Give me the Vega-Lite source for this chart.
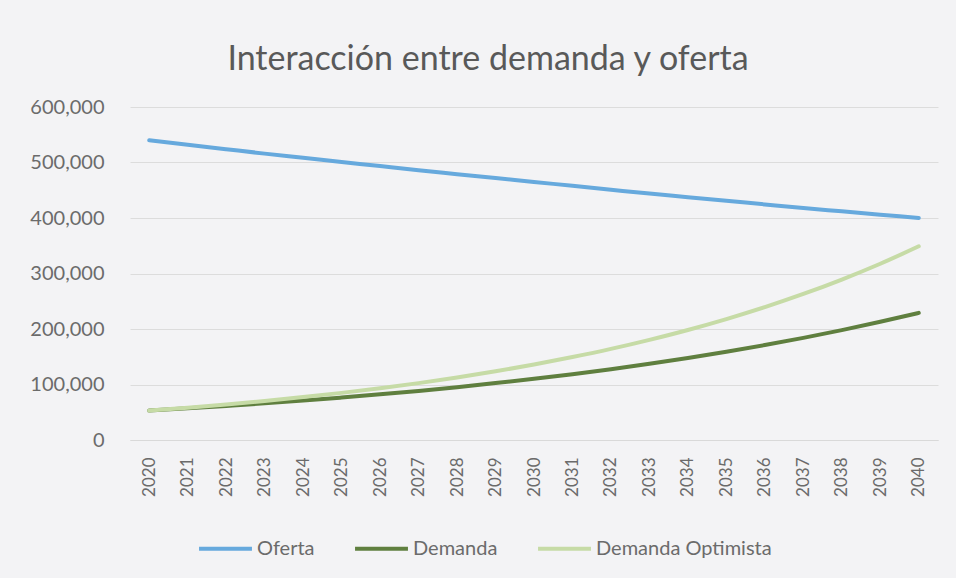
{
  "$schema": "https://vega.github.io/schema/vega-lite/v6.json",
  "width": 808,
  "height": 333,
  "autosize": {"type": "none"},
  "padding": {"left": 130, "top": 107, "right": 18, "bottom": 138},
  "background": "#f3f3f5",
  "title": {
    "text": "Interacción entre demanda y oferta",
    "font": "Lato",
    "fontSize": 34,
    "fontWeight": "normal",
    "color": "#595959",
    "anchor": "middle",
    "dx": -46,
    "offset": 20
  },
  "data": {
    "values": [
      {"anio": "2020", "serie": "Oferta", "valor": 540000},
      {"anio": "2021", "serie": "Oferta", "valor": 532000},
      {"anio": "2022", "serie": "Oferta", "valor": 524000},
      {"anio": "2023", "serie": "Oferta", "valor": 516000},
      {"anio": "2024", "serie": "Oferta", "valor": 508500},
      {"anio": "2025", "serie": "Oferta", "valor": 501000},
      {"anio": "2026", "serie": "Oferta", "valor": 493500},
      {"anio": "2027", "serie": "Oferta", "valor": 486000},
      {"anio": "2028", "serie": "Oferta", "valor": 479000},
      {"anio": "2029", "serie": "Oferta", "valor": 472000},
      {"anio": "2030", "serie": "Oferta", "valor": 465000},
      {"anio": "2031", "serie": "Oferta", "valor": 458000},
      {"anio": "2032", "serie": "Oferta", "valor": 451000},
      {"anio": "2033", "serie": "Oferta", "valor": 444000},
      {"anio": "2034", "serie": "Oferta", "valor": 437500},
      {"anio": "2035", "serie": "Oferta", "valor": 431000},
      {"anio": "2036", "serie": "Oferta", "valor": 424500},
      {"anio": "2037", "serie": "Oferta", "valor": 418000},
      {"anio": "2038", "serie": "Oferta", "valor": 412000},
      {"anio": "2039", "serie": "Oferta", "valor": 406000},
      {"anio": "2040", "serie": "Oferta", "valor": 400000},
      {"anio": "2020", "serie": "Demanda", "valor": 53000},
      {"anio": "2021", "serie": "Demanda", "valor": 57000},
      {"anio": "2022", "serie": "Demanda", "valor": 61400},
      {"anio": "2023", "serie": "Demanda", "valor": 66000},
      {"anio": "2024", "serie": "Demanda", "valor": 71000},
      {"anio": "2025", "serie": "Demanda", "valor": 76500},
      {"anio": "2026", "serie": "Demanda", "valor": 82300},
      {"anio": "2027", "serie": "Demanda", "valor": 88500},
      {"anio": "2028", "serie": "Demanda", "valor": 95200},
      {"anio": "2029", "serie": "Demanda", "valor": 102500},
      {"anio": "2030", "serie": "Demanda", "valor": 110200},
      {"anio": "2031", "serie": "Demanda", "valor": 118600},
      {"anio": "2032", "serie": "Demanda", "valor": 127600},
      {"anio": "2033", "serie": "Demanda", "valor": 137300},
      {"anio": "2034", "serie": "Demanda", "valor": 147700},
      {"anio": "2035", "serie": "Demanda", "valor": 158900},
      {"anio": "2036", "serie": "Demanda", "valor": 171000},
      {"anio": "2037", "serie": "Demanda", "valor": 184000},
      {"anio": "2038", "serie": "Demanda", "valor": 198000},
      {"anio": "2039", "serie": "Demanda", "valor": 213000},
      {"anio": "2040", "serie": "Demanda", "valor": 229000},
      {"anio": "2020", "serie": "Demanda Optimista", "valor": 53000},
      {"anio": "2021", "serie": "Demanda Optimista", "valor": 58200},
      {"anio": "2022", "serie": "Demanda Optimista", "valor": 64000},
      {"anio": "2023", "serie": "Demanda Optimista", "valor": 70300},
      {"anio": "2024", "serie": "Demanda Optimista", "valor": 77300},
      {"anio": "2025", "serie": "Demanda Optimista", "valor": 84900},
      {"anio": "2026", "serie": "Demanda Optimista", "valor": 93300},
      {"anio": "2027", "serie": "Demanda Optimista", "valor": 102500},
      {"anio": "2028", "serie": "Demanda Optimista", "valor": 112700},
      {"anio": "2029", "serie": "Demanda Optimista", "valor": 123800},
      {"anio": "2030", "serie": "Demanda Optimista", "valor": 136000},
      {"anio": "2031", "serie": "Demanda Optimista", "valor": 149500},
      {"anio": "2032", "serie": "Demanda Optimista", "valor": 164200},
      {"anio": "2033", "serie": "Demanda Optimista", "valor": 180500},
      {"anio": "2034", "serie": "Demanda Optimista", "valor": 198300},
      {"anio": "2035", "serie": "Demanda Optimista", "valor": 217900},
      {"anio": "2036", "serie": "Demanda Optimista", "valor": 239400},
      {"anio": "2037", "serie": "Demanda Optimista", "valor": 263100},
      {"anio": "2038", "serie": "Demanda Optimista", "valor": 289100},
      {"anio": "2039", "serie": "Demanda Optimista", "valor": 317600},
      {"anio": "2040", "serie": "Demanda Optimista", "valor": 349000}
    ]
  },
  "mark": {"type": "line", "strokeWidth": 4, "strokeCap": "round", "interpolate": "monotone"},
  "encoding": {
    "x": {
      "field": "anio",
      "type": "ordinal",
      "scale": {"padding": 0.5},
      "axis": {
        "title": null,
        "labelAngle": -90,
        "labelFont": "Lato",
        "labelFontSize": 17,
        "labelColor": "#6b6b6b",
        "labelPadding": 17,
        "ticks": false,
        "domain": true,
        "domainColor": "#d9d9d9",
        "grid": false
      }
    },
    "y": {
      "field": "valor",
      "type": "quantitative",
      "scale": {"domain": [0, 600000], "nice": false},
      "axis": {
        "title": null,
        "values": [0, 100000, 200000, 300000, 400000, 500000, 600000],
        "format": ",d",
        "labelFont": "Lato",
        "labelFontSize": 20,
        "labelColor": "#6b6b6b",
        "labelPadding": 26,
        "ticks": false,
        "domain": false,
        "grid": true,
        "gridColor": "#dcdcdc",
        "gridWidth": 1
      }
    },
    "color": {
      "field": "serie",
      "type": "nominal",
      "scale": {
        "domain": ["Oferta", "Demanda", "Demanda Optimista"],
        "range": ["#66a9dd", "#5f7f3f", "#c6dba6"]
      },
      "legend": {
        "title": null,
        "orient": "none",
        "direction": "horizontal",
        "legendX": 67,
        "legendY": 413,
        "symbolType": "stroke",
        "symbolSize": 2800,
        "symbolStrokeWidth": 4,
        "labelFont": "Lato",
        "labelFontSize": 20,
        "labelColor": "#6b6b6b",
        "labelOffset": 3,
        "labelLimit": 400,
        "columnPadding": 32
      }
    }
  },
  "config": {
    "view": {"stroke": null}
  }
}
